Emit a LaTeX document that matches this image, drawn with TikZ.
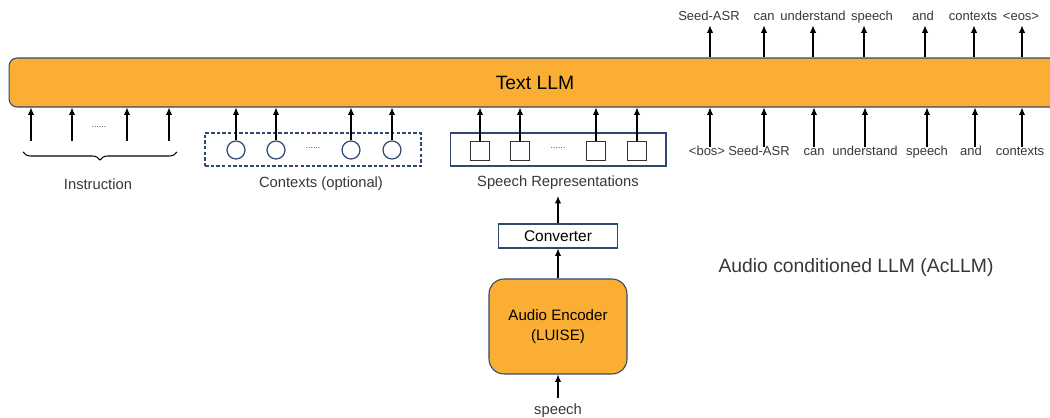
\documentclass[tikz,border=0pt]{standalone}
\usepackage{fontspec}
\setmainfont{Liberation Sans}
\usetikzlibrary{arrows.meta,decorations.pathreplacing}

\definecolor{llmorange}{RGB}{251,174,52}
\definecolor{navy}{RGB}{47,72,112}
\definecolor{txtgray}{RGB}{55,55,55}

\tikzset{
  arr/.style={-{Latex[length=4.2pt,width=3.6pt]},line width=0.6pt},
  tok/.style={font=\fontsize{7.4}{8}\selectfont,text=txtgray,inner sep=1pt,text height=1.5ex,text depth=.3ex},
  lbl/.style={font=\fontsize{8.4}{10}\selectfont,text=txtgray},
  orangebox/.style={draw=navy,fill=llmorange,line width=0.6pt},
  groupbox/.style={draw=navy,line width=0.6pt,minimum width=4.32cm,minimum height=0.66cm},
  ctxcirc/.style={circle,draw=navy,line width=0.7pt,minimum size=0.36cm,inner sep=0pt},
  repsq/.style={draw=black!80,line width=0.6pt,minimum size=0.38cm,inner sep=0pt},
  dots/.style={font=\fontsize{5}{6}\selectfont,text=txtgray}
}

\begin{document}
\begin{tikzpicture}[x=0.02cm,y=-0.02cm]
  \useasboundingbox (0,0) rectangle (1050,418);
  \clip (0,0) rectangle (1050,418);

  % the text LLM
  \node[orangebox,rounded corners=0.16cm,minimum width=21.04cm,minimum height=0.98cm,
        font=\fontsize{11}{13}\selectfont] (llm) at (535,82.5) {Text LLM};

  % output tokens
  \node[tok] (o1) at (709,15) {Seed-ASR};
  \node[tok] (o2) at (764,15) {can};
  \node[tok] (o3) at (813,15) {understand};
  \node[tok] (o4) at (872,15) {speech};
  \node[tok] (o5) at (923,15) {and};
  \node[tok] (o6) at (973,15) {contexts};
  \node[tok] (o7) at (1021,15) {<eos>};
  \foreach \i/\ax in {1/710,2/764,3/813,4/864,5/925,6/974,7/1022}
    \draw[arr] (llm.north -| \ax,0) -- (o\i.south -| \ax,0);

  % input tokens
  \node[tok] (b1) at (707,150) {<bos>};
  \node[tok] (b2) at (759,150) {Seed-ASR};
  \node[tok] (b3) at (814,150) {can};
  \node[tok] (b4) at (865,150) {understand};
  \node[tok] (b5) at (927,150) {speech};
  \node[tok] (b6) at (971,150) {and};
  \node[tok] (b7) at (1020,150) {contexts};
  \foreach \i/\ax in {1/710,2/764,3/814,4/865,5/927,6/975,7/1022}
    \draw[arr] ([yshift=-4pt]b\i.north -| \ax,0) -- (llm.south -| \ax,0);

  % instruction
  \coordinate (i1) at (31,141);
  \coordinate (i2) at (72,141);
  \coordinate (i3) at (127,141);
  \coordinate (i4) at (169,141);
  \foreach \i in {1,...,4}
    \draw[arr] (i\i) -- (llm.south -| i\i);
  \node[dots] (idots) at (99,127) {......};
  \draw[line width=0.6pt,decorate,decoration={brace,amplitude=0.16cm}]
    (177,152) -- (23,152);
  \node[lbl] (instr) at (98,184) {Instruction};

  % contexts
  \node[groupbox,dash pattern=on 2pt off 1.2pt] (ctx) at (313,149.5) {};
  \node[ctxcirc] (c1) at (236,150) {};
  \node[ctxcirc] (c2) at (276,150) {};
  \node[ctxcirc] (c3) at (351,150) {};
  \node[ctxcirc] (c4) at (392,150) {};
  \node[dots] (cdots) at (313,148) {......};
  \foreach \i in {1,...,4}
    \draw[arr] (c\i.north) -- (llm.south -| c\i);
  \node[lbl] (ctxlbl) at (321,184) {Contexts (optional)};

  % speech representations
  \node[groupbox] (rep) at (558,149.5) {};
  \node[repsq] (r1) at (480,151) {};
  \node[repsq] (r2) at (520,151) {};
  \node[repsq] (r3) at (596,151) {};
  \node[repsq] (r4) at (637,151) {};
  \node[dots] (rdots) at (558,148) {......};
  \foreach \i in {1,...,4}
    \draw[arr] (r\i.north) -- (llm.south -| r\i);
  \node[lbl] (replbl) at (558,183) {Speech Representations};

  % encoder side
  \node[draw=navy,line width=0.6pt,minimum width=2.38cm,minimum height=0.48cm,
        font=\fontsize{8.8}{10}\selectfont] (conv) at (558,236) {Converter};
  \node[orangebox,rounded corners=0.3cm,minimum width=2.76cm,minimum height=1.9cm,
        align=center,font=\fontsize{8.6}{11}\selectfont] (enc) at (558,326.5) {Audio Encoder\\(LUISE)};
  \node[lbl] (speech) at (558,411) {speech};
  \draw[arr] (conv.north) -- (conv.north |- replbl.south);
  \draw[arr] (enc.north) -- (conv.south);
  \draw[arr] (speech.north) -- (enc.south);

  \node[font=\fontsize{11}{13}\selectfont,text=txtgray] (title) at (856,267) {Audio conditioned LLM (AcLLM)};
\end{tikzpicture}
\end{document}
